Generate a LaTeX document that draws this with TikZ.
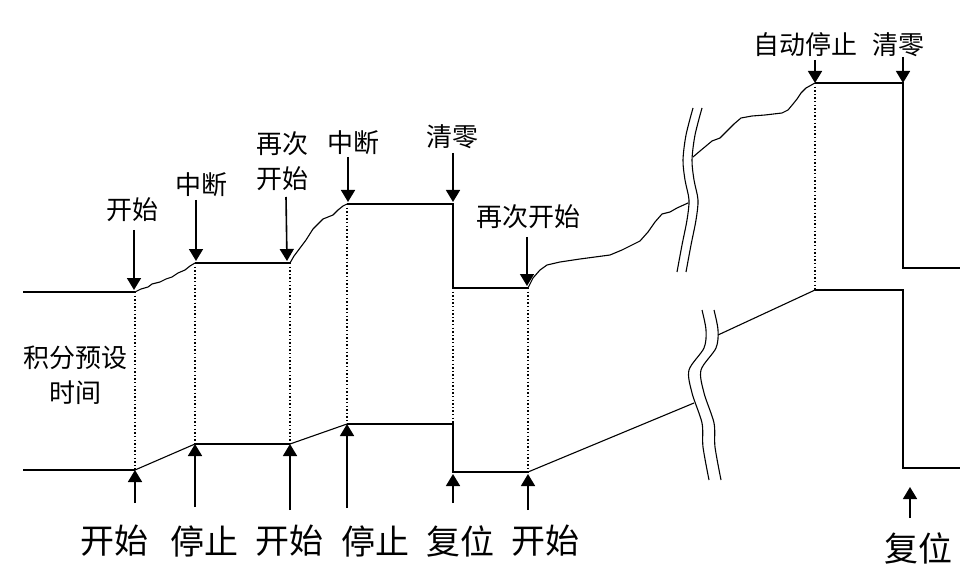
\documentclass[tikz,border=0pt]{standalone}
\usepackage{fontspec}
\setmainfont{Noto Sans CJK SC}
\usetikzlibrary{arrows.meta}
\begin{document}
\begin{tikzpicture}[x=1pt,y=-1pt,
  curve/.style={line width=1.6pt, line join=miter},
  wig/.style={line width=1.1pt, line join=round},
  guide/.style={line width=1.2pt, dash pattern=on 1.4pt off 2.2pt},
  brk/.style={line width=1.1pt},
  ptr/.style={line width=1.6pt, -{Triangle[width=14pt,length=12pt]}},
  toplab/.style={font=\fontsize{26}{35}\selectfont, align=center, inner sep=0pt},
  botlab/.style={font=\fontsize{34}{40}\selectfont, inner sep=0pt}]
\useasboundingbox (0,0) rectangle (960,585);
% top curve key points
\coordinate (t0) at (23,292);  \coordinate (t1) at (135,292);
\coordinate (t2) at (195,263); \coordinate (t3) at (290,263);
\coordinate (t4) at (347,204); \coordinate (t5) at (453,204);
\coordinate (t6) at (453,288); \coordinate (t7) at (528,288);
\coordinate (t8) at (688,203); \coordinate (t9) at (693,157);
\coordinate (t10) at (815,83); \coordinate (t11) at (903,83);
\coordinate (t12) at (903,268); \coordinate (t13) at (960,268);
% bottom curve key points
\coordinate (b0) at (23,470);  \coordinate (b1) at (135,470);
\coordinate (b2) at (195,444); \coordinate (b3) at (290,444);
\coordinate (b4) at (347,424); \coordinate (b5) at (453,424);
\coordinate (b6) at (453,472); \coordinate (b7) at (528,472);
\coordinate (b8) at (694,403); \coordinate (b9) at (718,335);
\coordinate (b10) at (815,290); \coordinate (b11) at (903,290);
\coordinate (b12) at (903,468); \coordinate (b13) at (960,468);

% top curve
\draw[curve] (t0) -- (t1);
\draw[wig] (t1) -- (141,289) -- (148,287) -- (152,284) -- (160,282) -- (166,279) -- (172,277) -- (178,273) -- (185,270) -- (190,266) -- (t2);
\draw[curve] (t2) -- (t3);
\draw[wig] (t3) -- (294,256) -- (300,248) -- (306,240) -- (313,229) -- (318,224) -- (323,219) -- (333,215) -- (338,210) -- (343,206) -- (t4);
\draw[curve] (t4) -- (t5) -- (t6) -- (t7);
\draw[wig] (t7) -- (533,278) -- (540,270) -- (547,265) -- (560,262) -- (580,259) -- (595,257) -- (610,255) -- (622,250) -- (630,246) -- (640,241) -- (648,232) -- (655,222) -- (662,214) -- (670,212) -- (677,208) -- (t8);
\draw[wig] (t9) -- (700,151) -- (706,146) -- (712,141) -- (720,138) -- (727,131) -- (734,124) -- (741,118) -- (752,116) -- (765,115) -- (782,113) -- (788,110) -- (793,104) -- (797,99) -- (801,93) -- (806,88) -- (t10);
\draw[curve] (t10) -- (t11) -- (t12) -- (t13);

% top break marks
\draw[brk] plot[smooth] coordinates {(677,272) (682,245) (687,220) (689,200) (685,180) (683,160) (686,135) (693,108)};
\draw[brk] plot[smooth] coordinates {(686,272) (691,245) (696,220) (698,200) (694,180) (692,160) (695,135) (702,108)};

% bottom curve
\draw[curve] (b0) -- (b1);
\draw[wig] (b1) -- (b2);
\draw[curve] (b2) -- (b3);
\draw[wig] (b3) -- (b4);
\draw[curve] (b4) -- (b5) -- (b6) -- (b7);
\draw[wig] (b7) -- (b8);
\draw[wig] (b9) -- (b10);
\draw[curve] (b10) -- (b11) -- (b12) -- (b13);

% bottom break marks
\draw[brk] plot[smooth] coordinates {(702,310) (706,330) (704,348) (689,370) (692,393) (702,423) (703,447) (709,480)};
\draw[brk] plot[smooth] coordinates {(714,310) (718,330) (716,348) (701,370) (704,393) (714,423) (715,447) (721,480)};

% dotted guides
\draw[guide] (t1) -- (b1);
\draw[guide] (t2) -- (b2);
\draw[guide] (t3) -- (b3);
\draw[guide] (t4) -- (b4);
\draw[guide] (t6) -- (b5);
\draw[guide] (t7) -- (b7);
\draw[guide] (t10) -- (b10);

% top labels
\node[toplab] (L1) at (132,210) {开始};
\node[toplab] (L2) at (201,185) {中断};
\node[toplab] (L3) at (282,161) {再次\\开始};
\node[toplab] (L4) at (353,143) {中断};
\node[toplab] (L5) at (452,137) {清零};
\node[toplab] (L6) at (528,217) {再次开始};
\node[toplab] (L7) at (805,45) {自动停止};
\node[toplab] (L8) at (898,45) {清零};
\node[toplab] (L9) at (75,375) {积分预设\\时间};

\coordinate (a1) at (134,230); \coordinate (a1e) at (134,290);
\coordinate (a2) at (196,200); \coordinate (a2e) at (196,261);
\coordinate (a3) at (286,197); \coordinate (a3e) at (287,261);
\coordinate (a4) at (348,157); \coordinate (a4e) at (348,202);
\coordinate (a5) at (453,153); \coordinate (a5e) at (453,202);
\coordinate (a6) at (527,237); \coordinate (a6e) at (527,286);
\coordinate (a7) at (815,60);  \coordinate (a7e) at (815,83);
\coordinate (a8) at (903,57);  \coordinate (a8e) at (903,83);
\draw[ptr] (a1) -- (a1e);
\draw[ptr] (a2) -- (a2e);
\draw[ptr] (a3) -- (a3e);
\draw[ptr] (a4) -- (a4e);
\draw[ptr] (a5) -- (a5e);
\draw[ptr] (a6) -- (a6e);
\draw[ptr] (a7) -- (a7e);
\draw[ptr] (a8) -- (a8e);

% bottom labels
\node[botlab] (B1) at (114,541) {开始};
\node[botlab] (B2) at (204,541) {停止};
\node[botlab] (B3) at (289,541) {开始};
\node[botlab] (B4) at (375,541) {停止};
\node[botlab] (B5) at (460,541) {复位};
\node[botlab] (B6) at (545,541) {开始};
\node[botlab] (B7) at (918,548) {复位};

\coordinate (u1) at (135,503); \coordinate (u1e) at (135,470);
\coordinate (u2) at (195,507); \coordinate (u2e) at (195,444);
\coordinate (u3) at (290,510); \coordinate (u3e) at (290,444);
\coordinate (u4) at (347,508); \coordinate (u4e) at (347,424);
\coordinate (u5) at (453,503); \coordinate (u5e) at (453,474);
\coordinate (u6) at (528,510); \coordinate (u6e) at (528,474);
\coordinate (u7) at (910,518); \coordinate (u7e) at (910,487);
\draw[ptr] (u1) -- (u1e);
\draw[ptr] (u2) -- (u2e);
\draw[ptr] (u3) -- (u3e);
\draw[ptr] (u4) -- (u4e);
\draw[ptr] (u5) -- (u5e);
\draw[ptr] (u6) -- (u6e);
\draw[ptr] (u7) -- (u7e);
\end{tikzpicture}
\end{document}
